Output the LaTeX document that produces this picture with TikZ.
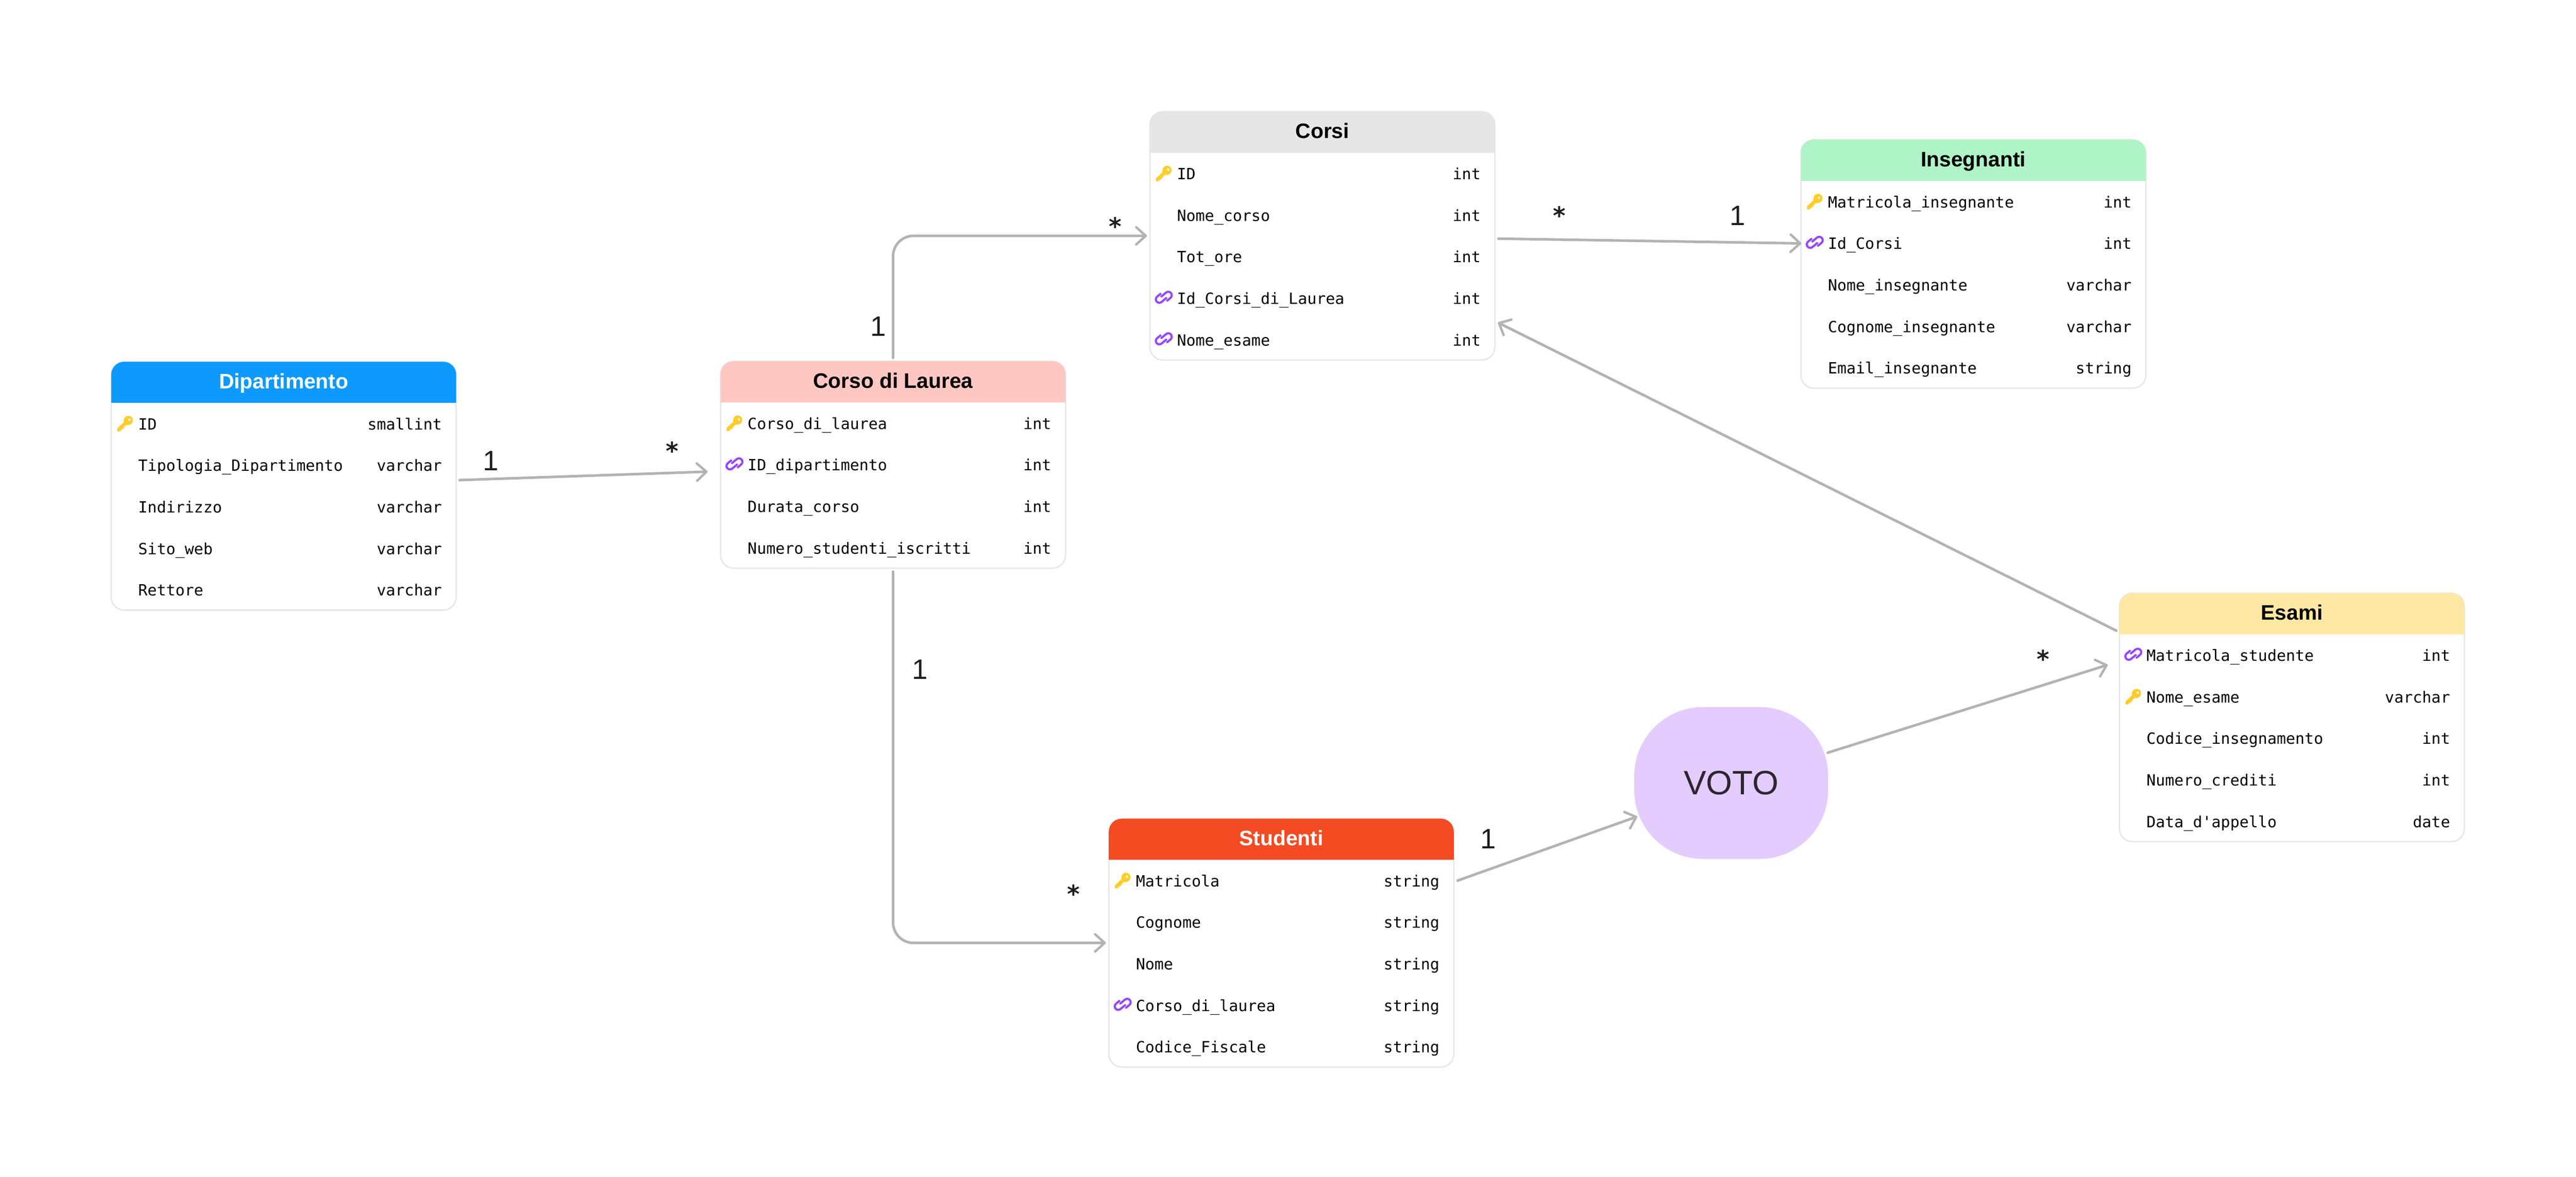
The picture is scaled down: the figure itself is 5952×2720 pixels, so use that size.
\documentclass[tikz,border=0pt]{standalone}
\usepackage{fontspec}
\setmainfont{Liberation Sans}
\newfontfamily\rowfont{DejaVu Sans Mono}
\newfontfamily\starfont{DejaVu Sans}
\usetikzlibrary{arrows.meta}
\definecolor{borderc}{HTML}{E6E6E6}
\definecolor{linec}{HTML}{B3B3B3}
\definecolor{keyc}{HTML}{FFCD29}
\definecolor{linkc}{HTML}{9747FF}
\definecolor{labelc}{HTML}{1E1E1E}
\definecolor{votoc}{HTML}{E4CCFF}
\definecolor{votot}{HTML}{2C2630}
\definecolor{hdip}{HTML}{0D99FF}
\definecolor{hcor}{HTML}{FFC7C2}
\definecolor{hcorsi}{HTML}{E6E6E6}
\definecolor{hins}{HTML}{AFF4C6}
\definecolor{hesa}{HTML}{FFE8A3}
\definecolor{hstu}{HTML}{F44A22}
\tikzset{
  x=1pt,y=-1pt,
  every node/.style={inner sep=0pt,outer sep=0pt},
  tablebox/.style={draw=borderc,line width=3pt,fill=white,rounded corners=30pt,minimum width=797pt},
  titletext/.style={font=\fontsize{48.5}{55}\selectfont\bfseries,anchor=base},
  rowtext/.style={font=\rowfont\fontsize{35.7}{40}\selectfont,text=black},
  conn/.style={draw=linec,line width=6pt,line cap=round,line join=round,rounded corners=47pt,
    -{Straight Barb[length=22pt,width=40pt,line width=5.5pt,round]}},
  numtext/.style={font=\fontsize{65}{70}\selectfont,text=labelc,anchor=base},
  startext/.style={font=\starfont\bfseries\fontsize{56}{62}\selectfont,text=labelc,anchor=base},
  keyicon/.pic={
    \fill[keyc,even odd rule] (4,-17.5) .. controls (12,-20) and (18.5,-14) .. (18,-7)
      .. controls (17.5,1) and (9,5) .. (3,3)
      -- (-3,8.5) -- (-3,12) -- (-7,12) -- (-7,15) -- (-11,15) -- (-11,18) -- (-18,18) -- (-18,11)
      -- (-3,-3) .. controls (-4,-10) and (-1,-15.5) .. (4,-17.5) -- cycle
      (10,-9) circle[radius=3];
  },
  linkicon/.pic={
    \begin{scope}[yshift=2pt,x=1pt,y=1pt,rotate=40,line width=5pt,line cap=round]
      \draw[linkc] (3,-5) -- (-11,-5) arc[start angle=270,end angle=90,radius=8] -- (-1,11) ;
      \draw[linkc] (-3,5) -- (11,5) arc[start angle=90,end angle=-90,radius=8] -- (1,-11) ;
    \end{scope}
  },
  noneicon/.pic={}
}
\newcommand{\ertable}[8]{%
  \pgfmathsetmacro{\tabh}{95+96*#4-1}
  \pgfmathsetmacro{\ttop}{#3+2}
  \pgfmathsetmacro{\tcx}{#2+398.5}
  \pgfmathsetmacro{\tcy}{\ttop+\tabh/2}
  \pgfmathsetmacro{\tr}{#2+797}
  \pgfmathsetmacro{\thb}{\ttop+95}
  \node[tablebox,minimum height=\tabh pt] (#1) at (\tcx,\tcy) {};
  \fill[#5] (#2,\thb) [rounded corners=30pt] -- (#2,\ttop) -- (\tr,\ttop) [sharp corners] -- (\tr,\thb) -- cycle;
  \pgfmathsetmacro{\tby}{\ttop+62}
  \node[titletext,text=#6] (#1-t) at (\tcx,\tby) {#7};
  \foreach \lab/\typ/\ic [count=\i from 0] in {#8} {
    \pgfmathsetmacro{\by}{\thb+62+96*\i}
    \pgfmathsetmacro{\tx}{#2+62.5}
    \pgfmathsetmacro{\vx}{#2+764}
    \pgfmathsetmacro{\ix}{#2+32}
    \pgfmathsetmacro{\iy}{\by-14}
    \node[rowtext,anchor=base west] (#1-l\i) at (\tx,\by) {\lab};
    \node[rowtext,anchor=base east] (#1-v\i) at (\vx,\by) {\typ};
    \pic at (\ix,\iy) {\ic};
  }
}
\begin{document}
\begin{tikzpicture}
\useasboundingbox (0,0) rectangle (5952,2720);
\fill[white] (0,0) rectangle (5952,2720);

\ertable{dip}{257}{834}{5}{hdip}{white}{Dipartimento}{
  ID/smallint/keyicon,
  Tipologia\_Dipartimento/varchar/noneicon,
  Indirizzo/varchar/noneicon,
  Sito\_web/varchar/noneicon,
  Rettore/varchar/noneicon}
\ertable{cor}{1665}{833}{4}{hcor}{black}{Corso di Laurea}{
  Corso\_di\_laurea/int/keyicon,
  ID\_dipartimento/int/linkicon,
  Durata\_corso/int/noneicon,
  Numero\_studenti\_iscritti/int/noneicon}
\ertable{corsi}{2657}{256}{5}{hcorsi}{black}{Corsi}{
  ID/int/keyicon,
  Nome\_corso/int/noneicon,
  Tot\_ore/int/noneicon,
  Id\_Corsi\_di\_Laurea/int/linkicon,
  Nome\_esame/int/linkicon}
\ertable{ins}{4161}{321}{5}{hins}{black}{Insegnanti}{
  Matricola\_insegnante/int/keyicon,
  Id\_Corsi/int/linkicon,
  Nome\_insegnante/varchar/noneicon,
  Cognome\_insegnante/varchar/noneicon,
  Email\_insegnante/string/noneicon}
\ertable{esa}{4897}{1369}{5}{hesa}{black}{Esami}{
  Matricola\_studente/int/linkicon,
  Nome\_esame/varchar/keyicon,
  Codice\_insegnamento/int/noneicon,
  Numero\_crediti/int/noneicon,
  Data\_d'appello/date/noneicon}
\ertable{stu}{2562}{1890}{5}{hstu}{white}{Studenti}{
  Matricola/string/keyicon,
  Cognome/string/noneicon,
  Nome/string/noneicon,
  Corso\_di\_laurea/string/linkicon,
  Codice\_Fiscale/string/noneicon}

\node[fill=votoc,rounded corners=159pt,minimum width=448pt,minimum height=351pt,
      font=\fontsize{78}{84}\selectfont,text=votot] (voto) at (4000,1809.5) {VOTO};

\draw[conn] ([shift={(8,-13.5)}]dip.east) -- ([shift={(-30,16)}]cor.west);
\draw[conn] ([shift={(0,-8)}]cor.north) |- ([shift={(-7,0)}]corsi.west);
\draw[conn] ([shift={(0,8)}]cor.south) |- ([shift={(-7,0)}]stu.west);
\draw[conn] ([shift={(8,6.5)}]corsi.east) -- ([shift={(1,-47.5)}]ins.west);
\draw[conn] ([shift={(9,-144)}]stu.east) -- ([shift={(7,77.5)}]voto.west);
\draw[conn] ([shift={(-1,-70)}]voto.east) -- ([shift={(-27,-121.5)}]esa.west);
\draw[conn] ([shift={(-7,-200.5)}]esa.west) -- ([shift={(7,200.5)}]corsi.east);

\node[numtext] (n1) at (1134,1088) {1};
\node[startext] (s1) at (1553,1063) {*};
\node[numtext] (n2) at (2029,777) {1};
\node[startext] (s2) at (2577,543) {*};
\node[numtext] (n3) at (2125.5,1569) {1};
\node[startext] (s3) at (2481,2086) {*};
\node[startext] (s4) at (3603,519) {*};
\node[numtext] (n4) at (4015,521) {1};
\node[numtext] (n5) at (3439,1961) {1};
\node[startext] (s5) at (4721,1543) {*};
\end{tikzpicture}
\end{document}
